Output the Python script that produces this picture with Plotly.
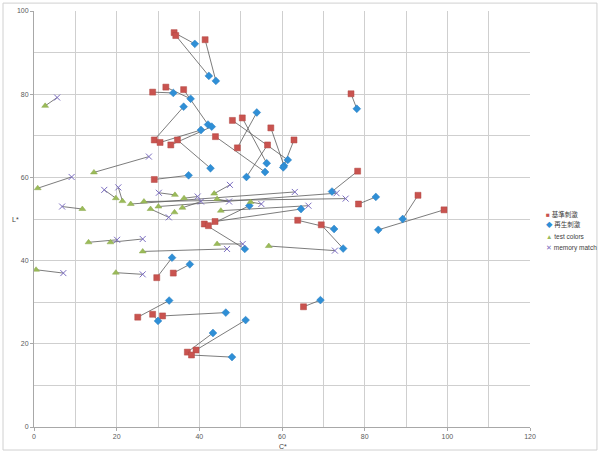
import plotly.graph_objects as go

# 基準刺激 (reference stimulus) -> 再生刺激 (reproduced stimulus), paired by index
ref_C = [33.9, 34.3, 41.4, 28.7, 31.9, 36.2, 29.1, 30.5, 33.1, 34.7, 76.7, 48.0, 50.4,
         49.2, 43.9, 56.5, 57.3, 62.9, 29.1, 78.3, 78.5, 92.9, 99.2, 63.8, 69.5, 41.2,
         43.8, 42.2, 29.7, 33.7, 25.1, 28.7, 31.1, 37.1, 39.2, 38.1, 65.2]
ref_L = [94.8, 94.1, 93.1, 80.5, 81.7, 81.1, 69.0, 68.4, 67.8, 69.0, 80.1, 73.7, 74.3,
         67.1, 69.8, 67.8, 71.9, 69.0, 59.5, 61.5, 53.6, 55.7, 52.2, 49.7, 48.6, 48.8,
         49.4, 48.4, 35.9, 37.0, 26.4, 27.1, 26.7, 18.0, 18.5, 17.3, 28.9]
rep_C = [38.9, 42.3, 44.0, 33.7, 37.9, 42.1, 36.2, 40.4, 43.0, 42.7, 78.1, 61.4, 56.3,
         53.9, 55.9, 51.4, 60.5, 60.3, 37.4, 72.1, 82.7, 89.2, 83.3, 72.6, 74.8, 51.0,
         64.6, 52.1, 33.4, 37.7, 32.7, 30.0, 46.4, 43.3, 51.2, 47.9, 69.3]
rep_L = [92.1, 84.4, 83.2, 80.3, 78.9, 72.7, 77.0, 71.4, 72.2, 62.2, 76.5, 64.2, 63.4,
         75.6, 61.3, 60.1, 62.8, 62.4, 60.5, 56.6, 55.3, 50.0, 47.4, 47.6, 42.9, 42.8,
         52.4, 53.2, 40.7, 39.1, 30.4, 25.5, 27.5, 22.6, 25.7, 16.8, 30.5]

# test colors -> memory match, paired by index (None = no visible match)
test_C = [2.7, 0.9, 14.5, 19.8, 21.4, 11.7, 23.4, 26.6, 34.1, 36.3, 28.2, 30.1, 35.9,
          34.0, 43.6, 44.3, 52.4, 45.2, 13.2, 18.5, 26.3, 44.3, 56.8, 0.5, 19.8]
test_L = [77.2, 57.4, 61.2, 55.0, 54.3, 52.4, 53.6, 54.2, 55.8, 55.0, 52.4, 53.0, 52.7,
          51.6, 56.1, 54.8, 54.1, 52.0, 44.4, 44.4, 42.2, 44.0, 43.5, 37.8, 37.1]
mem_C = [5.6, 9.1, 27.8, 17.0, 20.4, 6.8, 63.1, 75.4, 30.2, 39.6, 32.6, 73.2, 40.4,
         None, 47.4, 47.2, 55.0, 66.4, 20.1, 26.3, 46.7, 50.5, 72.8, 7.1, 26.3]
mem_L = [79.2, 60.1, 65.0, 57.0, 57.6, 53.0, 56.5, 54.9, 56.3, 55.4, 50.4, 56.2, 54.2,
         None, 58.2, 54.2, 53.6, 53.2, 45.0, 45.2, 42.8, 44.0, 42.4, 37.0, 36.7]

series_names = ["基準刺激", "再生刺激", "test colors", "memory match"]
series_colors = ["#c9534f", "#2f8fd6", "#9bbb59", "#7a6cc0"]
legend_glyphs = ["■", "◆", "▲", "✕"]
x_ticks = [0, 20, 40, 60, 80, 100, 120]
y_ticks = [0, 20, 40, 60, 80, 100]

def pair_lines(xa, ya, xb, yb):
    lx, ly = [], []
    for a, b, c, d in zip(xa, ya, xb, yb):
        if c is None or d is None:
            continue
        lx += [a, c, None]
        ly += [b, d, None]
    return lx, ly

lx1, ly1 = pair_lines(ref_C, ref_L, rep_C, rep_L)
lx2, ly2 = pair_lines(test_C, test_L, mem_C, mem_L)

fig = go.Figure()
fig.add_trace(go.Scatter(x=lx1 + lx2, y=ly1 + ly2, mode="lines",
                         line=dict(color="#5a5a5a", width=0.8),
                         showlegend=False, hoverinfo="skip"))
fig.add_trace(go.Scatter(x=ref_C, y=ref_L, mode="markers", name=series_names[0],
                         marker=dict(symbol="square", size=6, color=series_colors[0],
                                     line=dict(color="#b04844", width=0.5))))
fig.add_trace(go.Scatter(x=rep_C, y=rep_L, mode="markers", name=series_names[1],
                         marker=dict(symbol="diamond", size=6, color=series_colors[1],
                                     line=dict(color="#2a7fc0", width=0.5))))
fig.add_trace(go.Scatter(x=test_C, y=test_L, mode="markers", name=series_names[2],
                         marker=dict(symbol="triangle-up", size=6, color=series_colors[2],
                                     line=dict(color="#8aa84c", width=0.5))))
fig.add_trace(go.Scatter(x=mem_C, y=mem_L, mode="markers", name=series_names[3],
                         marker=dict(symbol="x-thin-open", size=6, color=series_colors[3],
                                     line=dict(color=series_colors[3], width=1))))

axis_common = dict(showgrid=True, gridcolor="#cfcfcf", gridwidth=1,
                   showline=True, linecolor="#a8a8a8", linewidth=1,
                   ticks="outside", ticklen=3, tickcolor="#a8a8a8",
                   tickfont=dict(size=7, color="#5a5a5a", family="Liberation Sans"),
                   zeroline=False,
                   minor=dict(dtick=10, showgrid=True, gridcolor="#cfcfcf", gridwidth=1))

fig.update_xaxes(range=[0, 120], tickvals=x_ticks, **axis_common)
fig.update_yaxes(range=[0, 100], tickvals=y_ticks, **axis_common)

# compact legend drawn as text (series glyph + name)
legend_y_px = [214, 225, 236.5, 248]
annotations = [
    dict(text="L*", xref="paper", yref="paper", x=-0.048, y=0.5,
         showarrow=False, font=dict(size=7, color="#404040")),
    dict(text="C*", xref="paper", yref="paper", x=0.502, y=-0.034, yanchor="top",
         showarrow=False, font=dict(size=7, color="#404040")),
]
for name, col, g, ypx in zip(series_names, series_colors, legend_glyphs, legend_y_px):
    annotations.append(dict(
        text=f'<span style="color:{col}">{g}</span> {name}',
        xref="paper", yref="paper", x=(544 - 34) / 496, y=(427 - ypx) / 416,
        xanchor="left", yanchor="middle", showarrow=False,
        font=dict(size=6.5, color="#404040", family="Liberation Sans, Noto Sans CJK JP")))

fig.update_layout(
    width=600, height=453,
    margin=dict(l=34, r=70, t=11, b=26, autoexpand=False),
    paper_bgcolor="white", plot_bgcolor="white",
    font=dict(family="Liberation Sans, Noto Sans CJK JP", size=7, color="#404040"),
    showlegend=False,
    annotations=annotations,
    shapes=[
        dict(type="rect", xref="paper", yref="paper",
             x0=-0.0625, x1=1.135, y0=-0.0553, y1=1.019,
             line=dict(color="#d0d0d0", width=1), layer="below"),
    ],
)

fig.write_html("out.html")
